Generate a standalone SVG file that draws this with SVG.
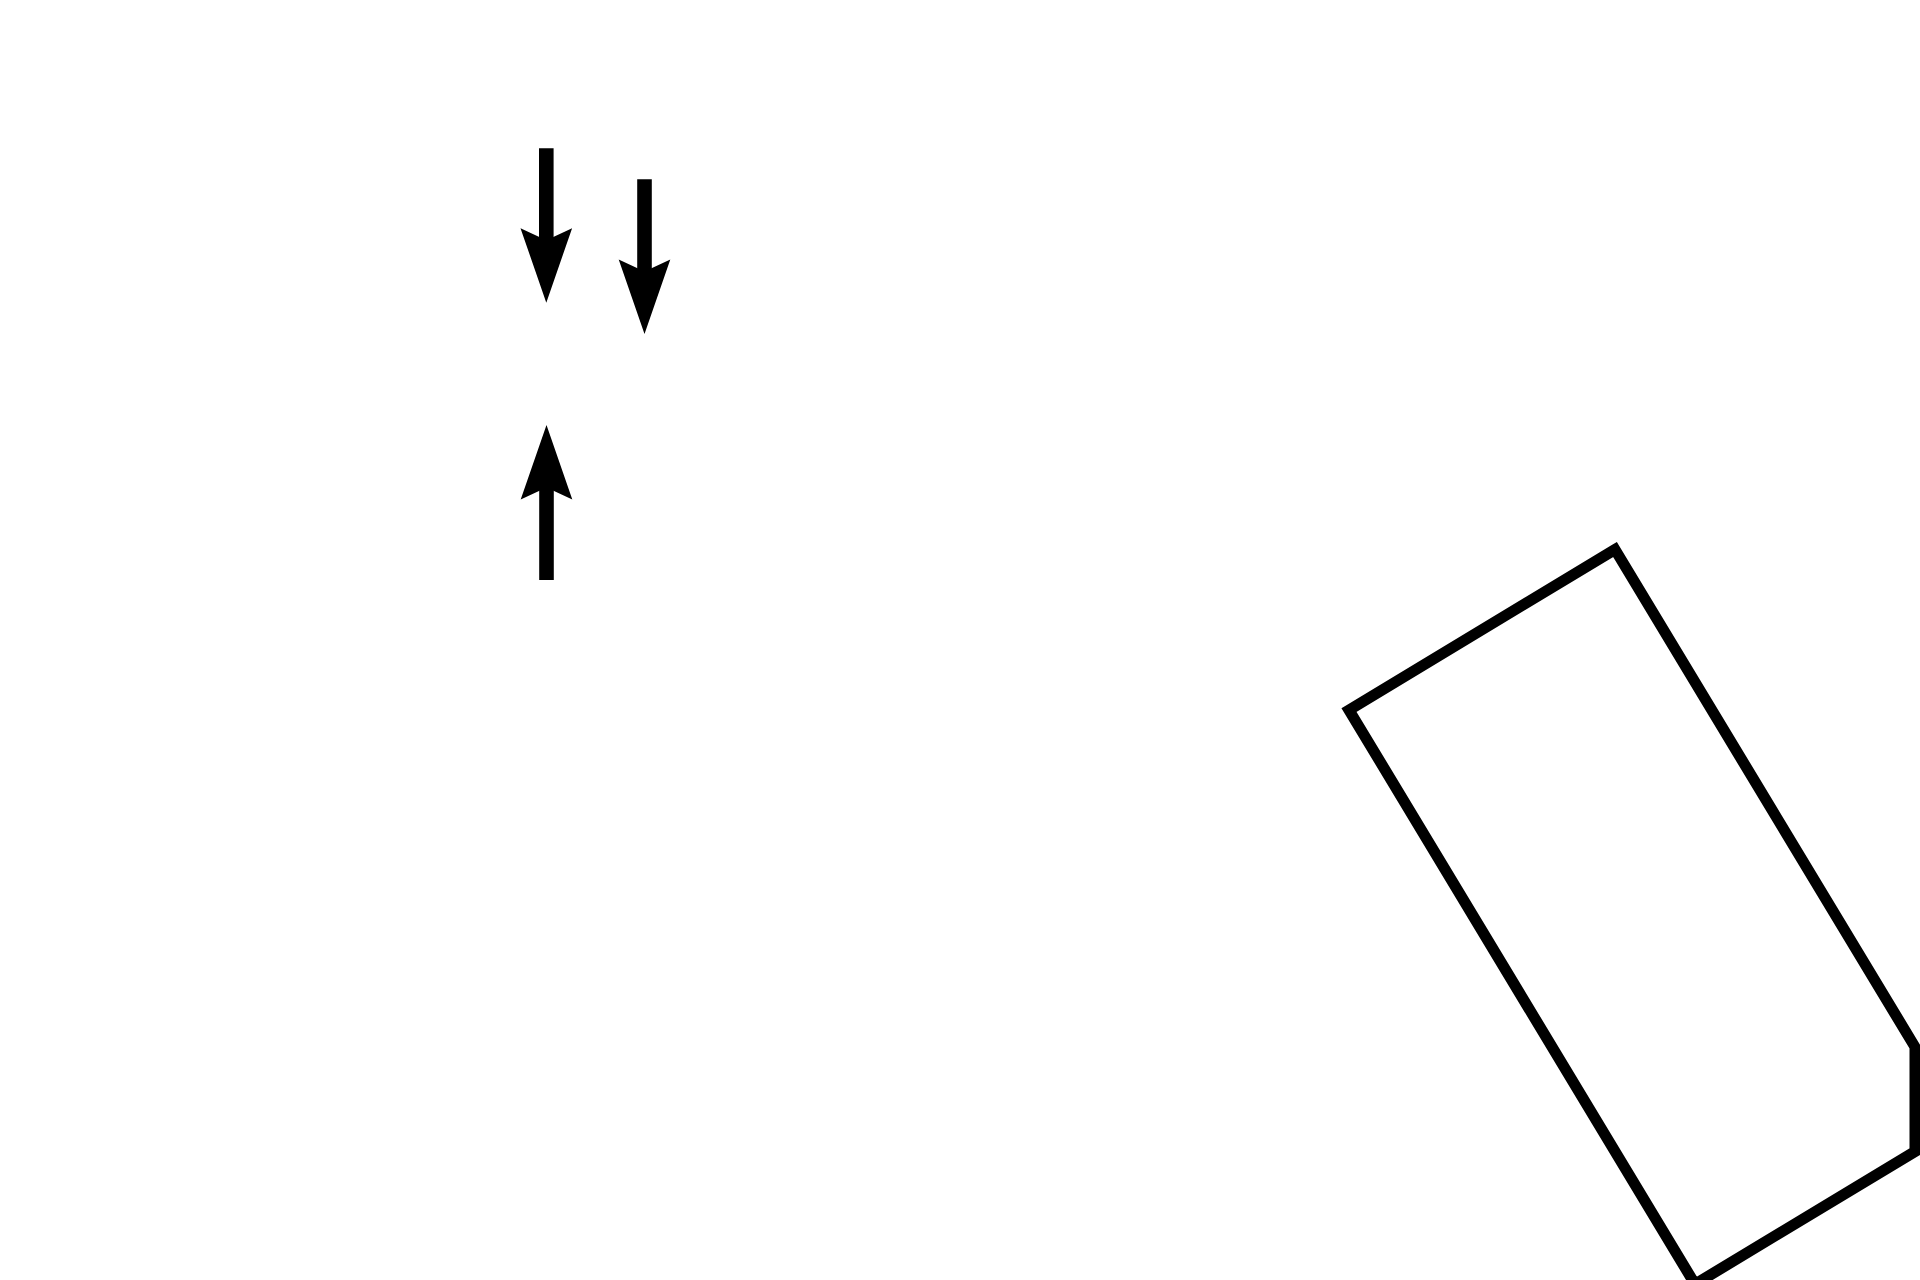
<svg xmlns="http://www.w3.org/2000/svg" width="1920" height="1280" viewBox="0 0 1920 1280">
  <style>
    .shaft { stroke: #000; stroke-width: 14.6; fill: none; stroke-linecap: butt; marker-end: url(#head); }
    .shape { stroke: #000; stroke-width: 11; fill: #fff; stroke-linejoin: miter; stroke-miterlimit: 10; }
  </style>
  <defs>
    <marker id="head" markerUnits="userSpaceOnUse" viewBox="-80 -30 85 60" markerWidth="85" markerHeight="60" refX="-60" refY="0" orient="auto" overflow="visible">
      <path d="M0,0 L-74.5,-25.8 L-62.5,0 L-74.5,25.8 Z" fill="#000"/>
    </marker>
  </defs>
  <rect x="0" y="0" width="1920" height="1280" fill="#fff"/>
  <g id="connectors">
    <line id="arrow1" class="shaft" x1="546.3" y1="148.3" x2="546.3" y2="242.7"/>
    <line id="arrow2" class="shaft" x1="644.5" y1="179.3" x2="644.5" y2="274"/>
    <line id="arrow3" class="shaft" x1="546.5" y1="580" x2="546.5" y2="485"/>
  </g>
  <g id="node-shape">
    <polygon class="shape" points="1615,549.5 1349,710 1695,1284.2 1915,1151.5 1915,1047"/>
  </g>
</svg>
